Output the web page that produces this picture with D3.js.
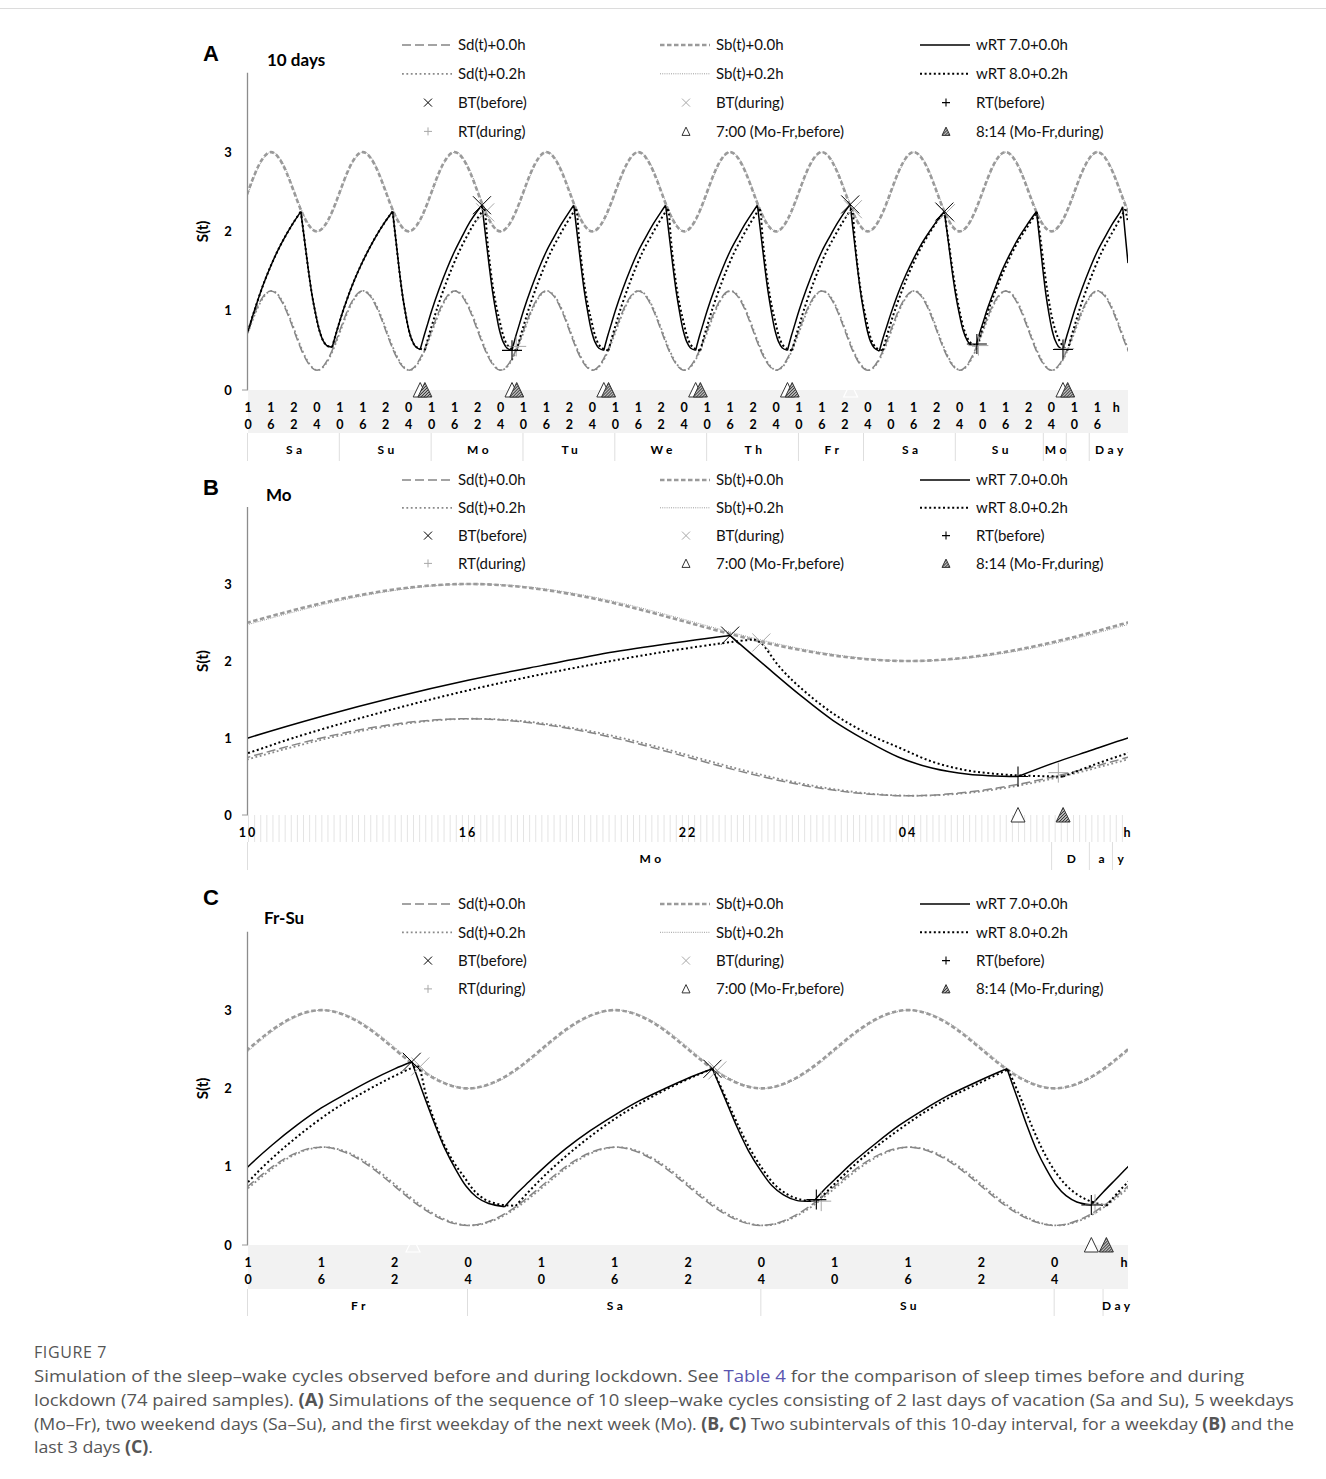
<!DOCTYPE html>
<html>
<head>
<meta charset="utf-8">
<script src="https://cdn.jsdelivr.net/npm/d3@7"></script>
<style>
  body { margin: 0; background: #fff; }
</style>
</head>
<body>
<div id="fig"></div>
<script>
// ---- data (hours counted from Saturday 00:00; S(t)) ----

// threshold profile over one day, clock hours 0..22
const clockHours = [0, 2, 4, 6, 8, 10, 12, 14, 16, 18, 20, 22];
const upperS = [2.25, 2.07, 2.00, 2.07, 2.25, 2.50, 2.75, 2.93, 3.00, 2.93, 2.75, 2.50];
const lowerS = [0.50, 0.32, 0.25, 0.32, 0.50, 0.75, 1.00, 1.18, 1.25, 1.18, 1.00, 0.75];

// vacation Sa-Su, identical in both simulations
const vacation = [[10,0.74],[11,0.90],[12,1.05],[14,1.33],[16,1.57],[18,1.78],[20,1.96],[22,2.12],[23.8,2.25],
  [24.85,1.86],[25.79,1.51],[26.73,1.20],[27.67,0.96],[28.61,0.76],[29.55,0.63],[30.59,0.56],[32.0,0.54],
  [33,0.71],[34,0.87],[35,1.02],[37,1.29],[39,1.52],[41,1.72],[43,1.90],[45,2.06],[47,2.20],[47.8,2.25],
  [48.72,1.86],[49.54,1.51],[50.37,1.20],[51.19,0.96],[52.02,0.76],[52.84,0.63],[53.76,0.55]];

// wRT 7.0+0.0h (before lockdown)
const sBefore = vacation.concat([[55.0,0.51],
  [56,0.68],[57,0.84],[58,1.00],[60,1.28],[62,1.53],[64,1.75],[66,1.94],[68,2.12],[70,2.26],[71.15,2.33],
  [72.15,1.92],[73.05,1.56],[73.95,1.23],[74.85,0.97],[75.75,0.75],[76.65,0.61],[77.65,0.53],[79.0,0.50],
  [80,0.68],[81,0.84],[82,1.00],[84,1.28],[86,1.53],[88,1.75],[90,1.93],[92,2.10],[94,2.25],[95.15,2.33],
  [96.15,1.92],[97.05,1.56],[97.95,1.23],[98.85,0.97],[99.75,0.75],[100.65,0.61],[101.65,0.53],[103.0,0.50],
  [104,0.68],[105,0.84],[106,1.00],[108,1.28],[110,1.53],[112,1.75],[114,1.93],[116,2.10],[118,2.25],[119.15,2.33],
  [120.15,1.92],[121.05,1.56],[121.95,1.23],[122.85,0.97],[123.75,0.75],[124.65,0.61],[125.65,0.53],[127.0,0.50],
  [128,0.68],[129,0.84],[130,1.00],[132,1.28],[134,1.53],[136,1.75],[138,1.93],[140,2.10],[142,2.25],[143.15,2.33],
  [144.15,1.92],[145.05,1.56],[145.95,1.23],[146.85,0.97],[147.75,0.75],[148.65,0.61],[149.65,0.53],[151.0,0.50],
  [152,0.68],[153,0.84],[154,1.00],[156,1.28],[158,1.53],[160,1.75],[162,1.93],[164,2.10],[166,2.25],[167.4,2.34],
  [168.37,1.92],[169.24,1.56],[170.11,1.23],[170.98,0.97],[171.85,0.75],[172.72,0.61],[173.69,0.53],[175.0,0.49],
  [176,0.66],[177,0.81],[178,0.96],[180,1.23],[182,1.46],[184,1.66],[186,1.84],[188,1.99],[190,2.13],[192.0,2.25],
  [193.06,1.86],[194.0,1.51],[194.96,1.20],[195.91,0.96],[196.86,0.76],[197.81,0.64],[198.87,0.57],[200.3,0.56],
  [201.3,0.73],[202.3,0.88],[203.3,1.03],[205.3,1.29],[207.3,1.53],[209.3,1.73],[211.3,1.91],[213.3,2.06],[215.3,2.20],[216.1,2.25],
  [216.98,1.86],[217.77,1.51],[218.56,1.20],[219.35,0.96],[220.14,0.76],[220.93,0.63],[221.81,0.55],[223.0,0.51],
  [224,0.68],[225,0.84],[226,1.00],[228,1.28],[230,1.53],[232,1.75],[234,1.93],[236,2.10],[238,2.25],[238.6,2.31],
  [239.3,1.95],[240,1.60]]);

// wRT 8.0+0.2h (during lockdown)
const sDuring = vacation.concat([[55.0,0.52],[56.23,0.50],
  [57.23,0.68],[58.23,0.84],[59.23,1.00],[61.23,1.28],[63.23,1.53],[65.23,1.75],[67.23,1.94],[69.23,2.11],[71.23,2.25],[71.8,2.28],
  [72.0,2.23],[72.5,1.92],[73.05,1.66],[73.95,1.32],[74.88,1.06],[75.78,0.87],[76.68,0.69],[77.6,0.58],[78.5,0.53],[79.24,0.51],[80.23,0.50],
  [81.23,0.68],[82.23,0.84],[83.23,1.00],[85.23,1.28],[87.23,1.53],[89.23,1.75],[91.23,1.93],[93.23,2.10],[95.23,2.25],[95.8,2.28],
  [96.0,2.23],[96.5,1.92],[97.05,1.66],[97.95,1.32],[98.88,1.06],[99.78,0.87],[100.68,0.69],[101.6,0.58],[102.5,0.53],[103.24,0.51],[104.23,0.50],
  [105.23,0.68],[106.23,0.84],[107.23,1.00],[109.23,1.28],[111.23,1.53],[113.23,1.75],[115.23,1.93],[117.23,2.10],[119.23,2.25],[119.8,2.28],
  [120.0,2.23],[120.5,1.92],[121.05,1.66],[121.95,1.32],[122.88,1.06],[123.78,0.87],[124.68,0.69],[125.6,0.58],[126.5,0.53],[127.24,0.51],[128.23,0.50],
  [129.23,0.68],[130.23,0.84],[131.23,1.00],[133.23,1.28],[135.23,1.53],[137.23,1.75],[139.23,1.93],[141.23,2.10],[143.23,2.25],[143.8,2.28],
  [144.0,2.23],[144.5,1.92],[145.05,1.66],[145.95,1.32],[146.88,1.06],[147.78,0.87],[148.68,0.69],[149.6,0.58],[150.5,0.53],[151.24,0.51],[152.23,0.50],
  [153.23,0.68],[154.23,0.84],[155.23,1.00],[157.23,1.28],[159.23,1.53],[161.23,1.75],[163.23,1.93],[165.23,2.10],[167.23,2.25],[167.9,2.29],
  [168.09,2.23],[168.56,1.92],[169.09,1.66],[169.94,1.32],[170.82,1.06],[171.68,0.87],[172.53,0.69],[173.4,0.58],[174.26,0.53],[174.96,0.51],[175.9,0.50],
  [176.9,0.67],[177.9,0.83],[178.9,0.98],[180.9,1.25],[182.9,1.49],[184.9,1.70],[186.9,1.88],[188.9,2.04],[190.9,2.18],[192.0,2.25],
  [193.1,1.88],[194.1,1.53],[195.1,1.22],[196.1,0.97],[197.1,0.77],[198.1,0.65],[199.2,0.58],[200.6,0.56],
  [201.6,0.72],[202.6,0.87],[203.6,1.02],[205.6,1.28],[207.6,1.51],[209.6,1.72],[211.6,1.90],[213.6,2.05],[215.6,2.20],[216.2,2.24],
  [217.2,1.88],[218.1,1.53],[219.0,1.22],[219.9,0.97],[220.9,0.77],[221.9,0.64],[222.9,0.56],[224.23,0.50],
  [225.23,0.68],[226.23,0.84],[227.23,1.00],[229.23,1.28],[231.23,1.53],[233.23,1.75],[235.23,1.93],[237.23,2.10],[239.3,2.28],
  [240,2.12]]);

// bed / rise time markers
const btBefore = [[71.15, 2.33], [167.4, 2.34], [192.0, 2.25]];
const btDuring = [[72.0, 2.24], [168.1, 2.28], [192.4, 2.23]];
const rtBefore = [[79.0, 0.50], [200.5, 0.58], [223.0, 0.51]];
const rtDuring = [[80.1, 0.55], [200.9, 0.56], [223.3, 0.52]];
// alarm times on weekdays
const alarm700 = [55, 79, 103, 127, 151, 223];
const alarm814 = [56.23, 80.23, 104.23, 128.23, 152.23, 224.23];
const blankMark = [167.5];

// axis labels
const hourLabels = ["10", "16", "22", "04"];
const yTickLabels = ["0", "1", "2", "3"];
const dayNamesA = ["Sa", "Su", "Mo", "Tu", "We", "Th", "Fr", "Sa", "Su", "Mo", "", "Day"];
const dayEdgesA = [10, 34, 58, 82, 106, 130, 154, 171, 195, 218, 224, 230, 240];
const dayNamesB = ["Mo", "D", "a", "y"];
const dayEdgesB = [58, 79.93, 80.96, 81.59, 82];
const dayNamesC = ["Fr", "Sa", "Su", "", "Day"];
const dayEdgesC = [154, 172, 196, 220, 224, 226];

const legendLabels = ["Sd(t)+0.0h", "Sb(t)+0.0h", "wRT 7.0+0.0h",
  "Sd(t)+0.2h", "Sb(t)+0.2h", "wRT 8.0+0.2h",
  "BT(before)", "BT(during)", "RT(before)",
  "RT(during)", "7:00 (Mo-Fr,before)", "8:14 (Mo-Fr,during)"];
const legendKeys = ["sd0", "sb0", "w7", "sd2", "sb2", "w8", "btB", "btD", "rtB", "rtD", "tri7", "tri8"];

// ---- drawing ----
var W = 1326, H = 1479;
var svg = d3.select("#fig").append("svg")
  .attr("width", W).attr("height", H)
  .style("font-family", "Lato, 'Noto Sans', sans-serif");

var defs = svg.append("defs");
var hatch = defs.append("pattern").attr("id", "hatch")
  .attr("patternUnits", "userSpaceOnUse").attr("width", 3).attr("height", 3);
hatch.append("rect").attr("width", 3).attr("height", 3).attr("fill", "#fff");
hatch.append("path").attr("d", "M0,3L3,0M-1,1L1,-1M2,4L4,2")
  .attr("stroke", "#222").attr("stroke-width", 1.2);

var styles = {
  sd0: { stroke: "#858585", width: 1.5, dash: "9,4" },
  sd2: { stroke: "#8a8a8a", width: 1.8, dash: "1.8,2.6" },
  sb0: { stroke: "#9a9a9a", width: 2.6, dash: "4.5,2.5" },
  sb2: { stroke: "#9c9c9c", width: 1, dash: "1,1.2" },
  w7: { stroke: "#000", width: 1.5, dash: null },
  w8: { stroke: "#000", width: 2, dash: "2,2.6" }
};

function applyStyle(sel, st) {
  sel.attr("fill", "none").attr("stroke", st.stroke).attr("stroke-width", st.width);
  if (st.dash) sel.attr("stroke-dasharray", st.dash);
}

// frame line at the top of the figure box
svg.append("line").attr("x1", 0).attr("x2", W).attr("y1", 8.5).attr("y2", 8.5)
  .attr("stroke", "#dcdcdc");

function crossPath(s) { return "M" + (-s) + "," + (-s) + "L" + s + "," + s + "M" + (-s) + "," + s + "L" + s + "," + (-s); }
function plusPath(s) { return "M" + (-s) + ",0L" + s + ",0M0," + (-s) + "L0," + s; }
function triPath(s) { return "M0," + (-s * 1.07) + "L" + s + "," + s + "L" + (-s) + "," + s + "Z"; }

function drawSymbol(g, key, cx, cy, s) {
  var p = g.append("path").attr("transform", "translate(" + cx + "," + cy + ")");
  if (key === "btB") p.attr("d", crossPath(s)).attr("stroke", "#000").attr("stroke-width", 1);
  if (key === "btD") p.attr("d", crossPath(s)).attr("stroke", "#a8a8a8").attr("stroke-width", 1);
  if (key === "rtB") p.attr("d", plusPath(s)).attr("stroke", "#000").attr("stroke-width", 1.1);
  if (key === "rtD") p.attr("d", plusPath(s)).attr("stroke", "#a8a8a8").attr("stroke-width", 1);
  if (key === "tri7") p.attr("d", triPath(s)).attr("fill", "#fff").attr("stroke", "#333").attr("stroke-width", 1);
  if (key === "tri8") p.attr("d", triPath(s)).attr("fill", "url(#hatch)").attr("stroke", "#333").attr("stroke-width", 1);
  if (key === "blank") p.attr("d", triPath(s)).attr("fill", "none").attr("stroke", "#fff").attr("stroke-width", 1.2);
  return p;
}

// split a series into monotone runs so that bed/wake corners stay sharp
function monotoneRuns(pts) {
  var runs = [], cur = [pts[0]], dir = 0;
  for (var i = 1; i < pts.length; i++) {
    var d = Math.sign(pts[i][1] - pts[i - 1][1]);
    if (dir !== 0 && d !== 0 && d !== dir) {
      runs.push(cur);
      cur = [pts[i - 1]];
    }
    if (d !== 0) dir = d;
    cur.push(pts[i]);
  }
  runs.push(cur);
  return runs;
}

function tileDays(values, shift) {
  var pts = [];
  for (var d = 0; d <= 10; d++) {
    clockHours.forEach(function(h, i) { pts.push([d * 24 + h + shift, values[i]]); });
  }
  return pts;
}

var panels = [
  { id: "A", title: "10 days", t0: 10, t1: 240, y0: 390, unit: 79.3, band: 43, stack: true,
    dayY: 454, sepBottom: 461, letterY: 61, titleX: 267, titleY: 66, legY: 45, legGap: 28.8,
    names: dayNamesA, edges: dayEdgesA },
  { id: "B", title: "Mo", t0: 58, t1: 82, y0: 815, unit: 77, band: 27, stack: false,
    dayY: 863, sepBottom: 870, letterY: 495, titleX: 266, titleY: 501, legY: 480, legGap: 27.8,
    names: dayNamesB, edges: dayEdgesB },
  { id: "C", title: "Fr-Su", t0: 154, t1: 226, y0: 1245, unit: 78.3, band: 44, stack: true,
    dayY: 1310, sepBottom: 1316, letterY: 905, titleX: 264, titleY: 924, legY: 904, legGap: 28.3,
    names: dayNamesC, edges: dayEdgesC }
];

var left = 248, right = 1128;

panels.forEach(function(p) {
  var x = d3.scaleLinear().domain([p.t0, p.t1]).range([left, right]);
  var y = d3.scaleLinear().domain([0, 4]).range([p.y0, p.y0 - 4 * p.unit]);
  var g = svg.append("g").attr("class", "panel" + p.id);

  defs.append("clipPath").attr("id", "clip" + p.id)
    .append("rect").attr("x", left).attr("y", y(4) - 10)
    .attr("width", right - left).attr("height", y(0) - y(4) + 12);

  // x-axis band
  g.append("rect").attr("x", left).attr("y", p.y0).attr("width", right - left).attr("height", p.band)
    .attr("fill", p.stack ? "#f2f2f2" : "#fff");
  if (!p.stack) {
    g.append("g").selectAll("line").data(d3.range(p.t0, p.t1, 1 / 6)).enter().append("line")
      .attr("x1", function(d) { return x(d) + 0.5; }).attr("x2", function(d) { return x(d) + 0.5; })
      .attr("y1", p.y0).attr("y2", p.y0 + p.band)
      .attr("stroke", "#e4e4e4").attr("stroke-width", 1);
  }

  // y axis
  g.append("line").attr("x1", left - 0.5).attr("x2", left - 0.5).attr("y1", y(4)).attr("y2", y(0))
    .attr("stroke", "#8c8c8c").attr("stroke-width", 1.3);
  g.append("line").attr("x1", left - 6).attr("x2", left).attr("y1", y(0)).attr("y2", y(0))
    .attr("stroke", "#9a9a9a");
  g.selectAll(".ytick").data(yTickLabels).enter().append("text")
    .attr("x", 228).attr("y", function(d, i) { return y(i); }).attr("dy", "0.36em")
    .attr("text-anchor", "middle").attr("font-size", 13).attr("font-weight", "bold")
    .text(function(d) { return d; });
  g.append("text").attr("transform", "translate(208," + y(2) + ") rotate(-90)")
    .attr("text-anchor", "middle").attr("font-size", 15).attr("font-weight", "bold").text("S(t)");

  // hour tick labels
  var ticks = d3.range(p.t0, p.t1 + 0.01, 6);
  ticks.forEach(function(t, i) {
    var last = i === ticks.length - 1;
    var lab = last ? "h" : hourLabels[i % 4];
    var tx = x(t);
    if (p.stack && !last) {
      g.append("text").attr("x", tx).attr("y", p.y0 + 21.5).attr("text-anchor", "middle")
        .attr("font-size", 12.5).attr("font-weight", "bold").text(lab[0]);
      g.append("text").attr("x", tx).attr("y", p.y0 + 39).attr("text-anchor", "middle")
        .attr("font-size", 12.5).attr("font-weight", "bold").text(lab[1]);
    } else {
      g.append("text").attr("x", last && p.stack ? tx - 4 : tx).attr("y", p.y0 + 21.5)
        .attr("text-anchor", "middle").attr("font-size", 12.5).attr("font-weight", "bold")
        .attr("letter-spacing", p.stack ? 0 : 2).text(lab);
    }
  });

  // day row
  p.edges.slice(0, -1).forEach(function(e) {
    g.append("line").attr("x1", x(e) - 0.5).attr("x2", x(e) - 0.5)
      .attr("y1", p.y0 + p.band).attr("y2", p.sepBottom).attr("stroke", "#dedede");
  });
  p.names.forEach(function(n, i) {
    if (!n) return;
    var mid = (x(p.edges[i]) + x(p.edges[i + 1])) / 2;
    g.append("text").attr("x", mid + 2).attr("y", p.dayY).attr("text-anchor", "middle")
      .attr("font-size", 12).attr("font-weight", "bold").attr("letter-spacing", 3.5).text(n);
  });

  // panel letter and title
  g.append("text").attr("x", 211).attr("y", p.letterY).attr("text-anchor", "middle")
    .attr("font-family", "'Liberation Sans', Arial, sans-serif")
    .attr("font-size", 22).attr("font-weight", "bold").text(p.id);
  g.append("text").attr("x", p.titleX).attr("y", p.titleY)
    .attr("font-size", 17).attr("font-weight", "bold").text(p.title);

  // legend
  var colX = [402, 660, 920];
  legendLabels.forEach(function(lab, i) {
    var r = Math.floor(i / 3), c = i % 3;
    var ly = p.legY + r * p.legGap;
    var key = legendKeys[i];
    if (styles[key]) {
      g.append("line").attr("x1", colX[c]).attr("x2", colX[c] + 50).attr("y1", ly).attr("y2", ly)
        .call(applyStyle, styles[key]);
    } else {
      drawSymbol(g, key, colX[c] + 26, ly, 4);
    }
    g.append("text").attr("x", colX[c] + 56).attr("y", ly).attr("dy", "0.35em")
      .attr("font-size", 15).attr("fill", "#111").text(lab);
  });

  // curves
  var plot = g.append("g").attr("clip-path", "url(#clip" + p.id + ")");
  var smooth = d3.line().x(function(d) { return x(d[0]); }).y(function(d) { return y(d[1]); })
    .curve(d3.curveNatural);
  var runLine = d3.line().x(function(d) { return x(d[0]); }).y(function(d) { return y(d[1]); })
    .curve(d3.curveCatmullRom.alpha(0.5));

  plot.append("path").attr("d", smooth(tileDays(lowerS, 0))).call(applyStyle, styles.sd0);
  plot.append("path").attr("d", smooth(tileDays(lowerS, 0.2))).call(applyStyle, styles.sd2);
  plot.append("path").attr("d", smooth(tileDays(upperS, 0))).call(applyStyle, styles.sb0);
  plot.append("path").attr("d", smooth(tileDays(upperS, 0.2))).call(applyStyle, styles.sb2);

  plot.append("path").attr("d", monotoneRuns(sDuring).map(runLine).join("")).call(applyStyle, styles.w8);
  plot.append("path").attr("d", monotoneRuns(sBefore).map(runLine).join("")).call(applyStyle, styles.w7);

  // markers
  function inView(t) { return t >= p.t0 && t <= p.t1; }
  btDuring.filter(function(d) { return inView(d[0]); }).forEach(function(d) { drawSymbol(plot, "btD", x(d[0]), y(d[1]), 9); });
  btBefore.filter(function(d) { return inView(d[0]); }).forEach(function(d) { drawSymbol(plot, "btB", x(d[0]), y(d[1]), 9); });
  rtDuring.filter(function(d) { return inView(d[0]); }).forEach(function(d) { drawSymbol(plot, "rtD", x(d[0]), y(d[1]), 10); });
  rtBefore.filter(function(d) { return inView(d[0]); }).forEach(function(d) { drawSymbol(plot, "rtB", x(d[0]), y(d[1]), 10); });

  var marks = g.append("g");
  blankMark.filter(inView).forEach(function(t) { drawSymbol(marks, "blank", x(t), y(0), 7); });
  alarm700.filter(inView).forEach(function(t) { drawSymbol(marks, "tri7", x(t), y(0), 7); });
  alarm814.filter(inView).forEach(function(t) { drawSymbol(marks, "tri8", x(t), y(0), 7); });
});

// ---- caption ----
var cap = svg.append("g").attr("fill", "#555").style("font-family", "'Open Sans', 'Noto Sans', sans-serif");
cap.append("text").attr("x", 34).attr("y", 1358).attr("font-size", 16).attr("letter-spacing", 0.6).text("FIGURE 7");

var capLines = [
  [["Simulation of the sleep\u2013wake cycles observed before and during lockdown. See ", 0], ["Table 4", 2], [" for the comparison of sleep times before and during", 0]],
  [["lockdown (74 paired samples). ", 0], ["(A)", 1], [" Simulations of the sequence of 10 sleep\u2013wake cycles consisting of 2 last days of vacation (Sa and Su), 5 weekdays", 0]],
  [["(Mo\u2013Fr), two weekend days (Sa\u2013Su), and the first weekday of the next week (Mo). ", 0], ["(B, C)", 1], [" Two subintervals of this 10-day interval, for a weekday ", 0], ["(B)", 1], [" and the", 0]],
  [["last 3 days ", 0], ["(C)", 1], [".", 0]]
];
var capWidths = [1211, 1261, 1261, null];
var capY = [1382, 1406, 1430, 1453];
var lastK = 1;

capLines.forEach(function(parts, li) {
  var t = cap.append("text").attr("x", 0).attr("y", 0).attr("font-size", 17);
  parts.forEach(function(pt) {
    var s = t.append("tspan").text(pt[0]);
    if (pt[1] === 1) s.attr("font-weight", "bold");
    if (pt[1] === 2) s.attr("fill", "#5a55b0");
  });
  var natural = t.node().getComputedTextLength();
  var k = capWidths[li] ? capWidths[li] / natural : lastK;
  lastK = k;
  t.attr("transform", "translate(34," + capY[li] + ") scale(" + k + ",1)");
});
</script>
</body>
</html>
